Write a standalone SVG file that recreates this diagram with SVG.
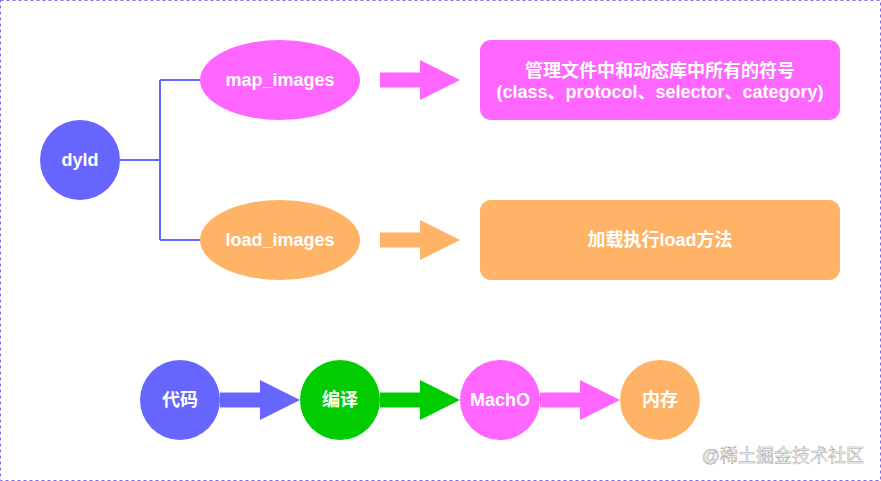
<svg xmlns="http://www.w3.org/2000/svg" width="881" height="481" viewBox="0 0 881 481">
<style>
.t{font-family:"Liberation Sans","Noto Sans CJK SC",sans-serif;font-weight:bold;font-size:18px;fill:#ffffff;text-anchor:middle;}
.wm{font-family:"Liberation Sans","Noto Sans CJK SC",sans-serif;font-size:18px;fill:#ffffff;stroke:#9a9a9a;stroke-width:0.5;text-anchor:end;}
.conn{fill:none;stroke:#6666ff;stroke-width:2;}
</style>
<defs>
<path id="barrow" d="M0,-7.5 H40 V-20 L80,0 L40,20 V7.5 H0 Z"/>
</defs>
<rect x="0.5" y="0.5" width="880" height="480" fill="#ffffff" stroke="#7b6cf0" stroke-width="1" stroke-dasharray="3,3"/>
<g id="connectors">
<path class="conn" d="M120,160 H160 M160,80 V240 M160,80 H200 M160,240 H200"/>
<use href="#barrow" x="380" y="80" fill="#ff66ff"/>
<use href="#barrow" x="380" y="240" fill="#ffb366"/>
<use href="#barrow" x="220" y="400" fill="#6666ff"/>
<use href="#barrow" x="380" y="400" fill="#00cc00"/>
<use href="#barrow" x="540" y="400" fill="#ff66ff"/>
</g>
<g id="dyld"><circle cx="80" cy="160" r="40" fill="#6666ff"/><text class="t" x="80" y="166">dyld</text></g>
<g id="map_images"><ellipse cx="280" cy="80" rx="80" ry="40" fill="#ff66ff"/><text class="t" x="280" y="86">map_images</text></g>
<g id="load_images"><ellipse cx="280" cy="240" rx="80" ry="40" fill="#ffb366"/><text class="t" x="280" y="246">load_images</text></g>
<g id="map_desc"><rect x="480" y="40" width="360" height="80" rx="11" fill="#ff66ff"/><text class="t" x="660" y="77">管理文件中和动态库中所有的符号</text><text class="t" x="660" y="98">(class、protocol、selector、category)</text></g>
<g id="load_desc"><rect x="480" y="200" width="360" height="80" rx="11" fill="#ffb366"/><text class="t" x="660" y="246">加载执行load方法</text></g>
<g id="code"><circle cx="180" cy="400" r="40" fill="#6666ff"/><text class="t" x="180" y="406">代码</text></g>
<g id="compile"><circle cx="340" cy="400" r="40" fill="#00cc00"/><text class="t" x="340" y="406">编译</text></g>
<g id="macho"><circle cx="500" cy="400" r="40" fill="#ff66ff"/><text class="t" x="500" y="406">MachO</text></g>
<g id="memory"><circle cx="660" cy="400" r="40" fill="#ffb366"/><text class="t" x="660" y="406">内存</text></g>
<text class="wm" x="864" y="462">@稀土掘金技术社区</text>
</svg>
